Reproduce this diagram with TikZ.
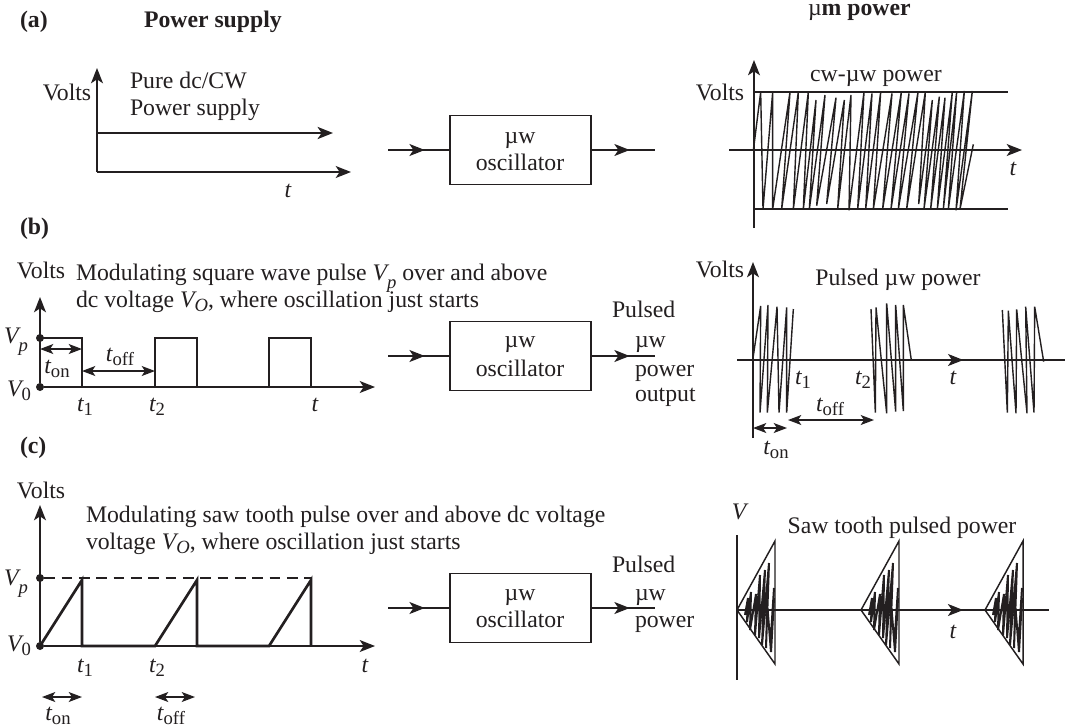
\documentclass[tikz,border=0pt]{standalone}
\usepackage{fontspec}
\setmainfont{Liberation Serif}
\usetikzlibrary{arrows.meta,decorations.markings}
\definecolor{ink}{HTML}{231F20}
\newcommand\sbs[1]{\raisebox{-.2em}{\fontsize{14}{14}\selectfont #1}}
\newcommand\tv[2]{{\itshape #1}\sbs{#2}}
\tikzset{
  lbl/.style={inner sep=0pt,outer sep=0pt,anchor=base,text=ink},
  lbll/.style={inner sep=0pt,outer sep=0pt,anchor=base west,text=ink},
  thinl/.style={line width=1.1pt,draw=ink},
  thickl/.style={line width=2pt,draw=ink},
  wave/.style={line width=1.05pt,draw=ink,line join=bevel},
  axis/.style={thinl,-{Stealth[length=11.5pt,width=9pt,inset=3pt]}},
  dbl/.style={line width=1.1pt,draw=ink,{Stealth[length=10pt,width=7.5pt,inset=2.5pt]}-{Stealth[length=10pt,width=7.5pt,inset=2.5pt]}},
  midtip/.style={thinl,postaction={decorate},decoration={markings,mark=at position #1 with {\arrow{Stealth[length=11.5pt,width=9pt,inset=3pt]}}}},
  osc/.style={draw=ink,line width=1.1pt,minimum width=105.75pt,minimum height=51.75pt,inner sep=0pt,fill=white},
  dot/.style={circle,fill=ink,inner sep=0pt,minimum size=6pt},
  bold/.style={font=\fontsize{17.8}{20}\selectfont\bfseries},
}
\begin{document}
\begin{tikzpicture}[x=0.75pt,y=-0.75pt,font=\fontsize{17.8}{20}\selectfont]
\useasboundingbox (0,0) rectangle (1066,726);
\fill[white] (0,0) rectangle (1066,726);

% headings
\node[lbll,bold] (hA) at (20,27) {(a)};
\node[lbll,bold] (hP) at (144,27) {Power supply};
\node[lbll,bold] (hM) at (808,15) {{\mdseries µ}m power};
\node[lbll,bold] (hB) at (20,234) {(b)};
\node[lbll,bold] (hC) at (20,453) {(c)};

% --- panel a, left
\coordinate (aO) at (97,172);
\coordinate (aY) at (97,68);
\coordinate (aX) at (351,172);
\coordinate (aL) at (97,133);
\coordinate (aR) at (333,133);
\draw[axis] (aO) -- (aY);
\draw[axis] (aO) -- (aX);
\draw[thickl,-{Stealth[length=11.5pt,width=9pt,inset=3pt]}] (aL) -- (aR);
\node[lbl] (aV) at (67,100) {Volts};
\node[lbll] (aP1) at (130,88) {Pure dc/CW};
\node[lbll] (aP2) at (130,115) {Power supply};
\node[lbl] (aT) at (288,197) {\itshape t};

% --- oscillators
\foreach \n/\yb/\ya/\yc in {A/150/143/170, B/356/347/376, C/608/600/627}{
  \node[osc] (box\n) at (520.5,\yb) {};
  \coordinate (in\n) at (388,\yb);
  \coordinate (out\n) at (655,\yb);
  \draw[midtip=0.6] (in\n) -- (box\n.west);
  \draw[midtip=0.6] (box\n.east) -- (out\n);
  \node[lbl] (mu\n) at (520,\ya) {µw};
  \node[lbl] (os\n) at (520,\yc) {oscillator};
}

% side texts
\node[lbll] (bS1) at (612,317) {Pulsed};
\node[lbll] (bS2) at (635,347) {µw};
\node[lbll] (bS3) at (635,376) {power};
\node[lbll] (bS4) at (635,401) {output};
\node[lbll] (cS1) at (612,572) {Pulsed};
\node[lbll] (cS2) at (635,600) {µw};
\node[lbll] (cS3) at (635,627) {power};

% --- panel a, right
\coordinate (rO) at (754,228);
\coordinate (rY) at (754,60);
\coordinate (rL) at (729,150);
\coordinate (rX) at (1022,150);
\coordinate (rT1) at (754,92);
\coordinate (rT2) at (1008,92);
\coordinate (rB1) at (754,209);
\coordinate (rB2) at (1008,209);
\draw[axis] (rO) -- (rY);
\draw[axis] (rL) -- (rX);
\draw[thinl] (rT1) -- (rT2);
\draw[thinl] (rB1) -- (rB2);
\begin{scope}[shift={(690,30)},x=0.25pt,y=-0.25pt]
\draw[wave] (190,361)--(212,186)--(219,537)--(248,186)--(248,537)--(300,186)--(275,537)--(325,186)--(310,537)--(355,186)--(340,537)--(378,210)--(358,537)--(405,195)--(380,527)--(438,203)--(410,522)--(463,210)--(443,537)--(483,195)--(477,541)--(522,186)--(503,537)--(546,190)--(527,537)--(572,186)--(550,537)--(606,190)--(578,537)--(634,186)--(603,537)--(657,190)--(625,537)--(684,186)--(650,537)--(706,186)--(686,522)--(727,210)--(702,537)--(748,200)--(722,537)--(765,203)--(742,537)--(787,186)--(760,537)--(800,186)--(775,537)--(823,183)--(798,541)--(847,183)--(810,537)--(850,343);
\end{scope}
\node[lbl] (rA) at (876,81) {cw-µw power};
\node[lbl] (rV) at (720,100) {Volts};
\node[lbl] (rt) at (1013,175) {\itshape t};

% --- panel b, left
\node[dot] (bVp) at (40,338) {};
\node[dot] (bV0) at (40,387) {};
\coordinate (bY) at (40,297);
\coordinate (bX) at (375,387);
\draw[axis] (bV0) -- (bY);
\draw[axis] (bV0) -- (bX);
\draw[thickl,line join=miter] (bVp.center) -- (82,338) -- (82,387) -- (155,387) -- (155,338) -- (197,338) -- (197,387) -- (269,387) -- (269,338) -- (311,338) -- (311,387);
\coordinate (bT1a) at (40,349);
\coordinate (bT1b) at (82,349);
\coordinate (bT2a) at (82,371);
\coordinate (bT2b) at (155,371);
\draw[dbl] (bT1a) -- (bT1b);
\draw[dbl] (bT2a) -- (bT2b);
\node[lbl] (bVolts) at (41,278) {Volts};
\node[lbll] (bM1) at (76,280) {Modulating square wave pulse {\itshape V}\raisebox{-.35em}{\fontsize{14}{14}\selectfont\itshape p} over and above};
\node[lbll] (bM2) at (76,307) {dc voltage {\itshape V}\sbs{\itshape O}, where oscillation just starts};
\node[lbl] (bVpL) at (16,343) {{\itshape V}\raisebox{-.35em}{\fontsize{14}{14}\selectfont\itshape p}};
\node[lbl] (bV0L) at (19,396) {{\itshape V}\sbs{0}};
\node[lbl] (bton) at (57,373) {\tv{t}{on}};
\node[lbl] (btoff) at (120,361) {\tv{t}{off}};
\node[lbl] (bt1) at (85,411) {\tv{t}{1}};
\node[lbl] (bt2) at (157,411) {\tv{t}{2}};
\node[lbl] (bt) at (315,411) {\itshape t};

% --- panel b, right
\coordinate (sB) at (753,438);
\coordinate (sY) at (753,262);
\coordinate (sL) at (737,360);
\coordinate (sR) at (1065,360);
\draw[axis] (sB) -- (sY);
\draw[midtip=0.69] (sL) -- (sR);
\begin{scope}[shift={(690,250)},x=0.25pt,y=-0.25pt]
\draw[wave] (188,331)--(212,168)--(210,488)--(234,165)--(232,488)--(261,170)--(267,488)--(290,172)--(290,488)--(310,177);
\draw[wave] (543,177)--(556,488)--(558,172)--(590,490)--(590,160)--(617,485)--(617,165)--(640,483)--(640,165)--(664,331);
\draw[wave] (937,180)--(952,488)--(955,182)--(978,490)--(980,178)--(1011,490)--(1007,170)--(1032,488)--(1034,170)--(1061,335);
\end{scope}
\coordinate (sT1a) at (753,428);
\coordinate (sT1b) at (787,428);
\coordinate (sT2a) at (788,420);
\coordinate (sT2b) at (874,420);
\draw[dbl] (sT1a) -- (sT1b);
\draw[dbl] (sT2a) -- (sT2b);
\node[lbl] (sV) at (720,277) {Volts};
\node[lbl] (sA) at (898,285) {Pulsed µw power};
\node[lbl] (st1) at (803,384) {\tv{t}{1}};
\node[lbl] (st2) at (863,384) {\tv{t}{2}};
\node[lbl] (st) at (953,384) {\itshape t};
\node[lbl] (stoff) at (830,411) {\tv{t}{off}};
\node[lbl] (ston) at (776,454) {\tv{t}{on}};

% --- panel c, left
\node[dot] (cVp) at (40,578) {};
\node[dot] (cV0) at (40,646) {};
\coordinate (cY) at (40,505);
\coordinate (cX) at (375,646);
\coordinate (cD) at (311,578);
\draw[axis] (cV0) -- (cY);
\draw[axis] (cV0) -- (cX);
\draw[thinl,dash pattern=on 8pt off 5pt] (cVp) -- (cD);
\draw[thickl,line join=miter] (cV0.center) -- (82,580) -- (82,646) -- (155,646) -- (197,580) -- (197,646) -- (269,646) -- (311,580) -- (311,646);
\coordinate (cT1a) at (42,697);
\coordinate (cT1b) at (82,697);
\coordinate (cT2a) at (155,697);
\coordinate (cT2b) at (195,697);
\draw[dbl] (cT1a) -- (cT1b);
\draw[dbl] (cT2a) -- (cT2b);
\node[lbl] (cVolts) at (41,498) {Volts};
\node[lbll] (cM1) at (86,522) {Modulating saw tooth pulse over and above dc voltage};
\node[lbll] (cM2) at (86,549) {voltage {\itshape V}\sbs{\itshape O}, where oscillation just starts};
\node[lbl] (cVpL) at (16,585) {{\itshape V}\raisebox{-.35em}{\fontsize{14}{14}\selectfont\itshape p}};
\node[lbl] (cV0L) at (19,651) {{\itshape V}\sbs{0}};
\node[lbl] (ct1) at (85,672) {\tv{t}{1}};
\node[lbl] (ct2) at (157,672) {\tv{t}{2}};
\node[lbl] (ct) at (365,672) {\itshape t};
\node[lbl] (cton) at (58,720) {\tv{t}{on}};
\node[lbl] (ctoff) at (171,720) {\tv{t}{off}};

% --- panel c, right
\coordinate (uT) at (737,535);
\coordinate (uB) at (737,680);
\coordinate (uL) at (737,610);
\coordinate (uR) at (1049,610);
\draw[thinl] (uT) -- (uB);
\draw[midtip=0.725] (uL) -- (uR);
\foreach \ax/\nm in {737/a,861/b,985/c}{
  \begin{scope}[shift={(\ax,610)}]
  \draw[thinl,line join=miter] (38,-69) -- (0,0) -- (38,54) -- cycle;
  \draw[wave,line width=1.5pt] (8,5)--(11,-12)--(10,12)--(14,-18)--(13,20)--(19,-16)--(18,25)--(23,-35)--(22,28)--(28,-40)--(25,35)--(32,-47)--(29,38)--(31,-32)--(30,-8)--(34,42)--(37,-12)--(34,25)--(37,-22);
  \end{scope}
}
\node[lbl] (uV) at (739,519) {\itshape V};
\node[lbl] (uA) at (902,533) {Saw tooth pulsed power};
\node[lbl] (ut) at (953,638) {\itshape t};
\end{tikzpicture}
\end{document}
